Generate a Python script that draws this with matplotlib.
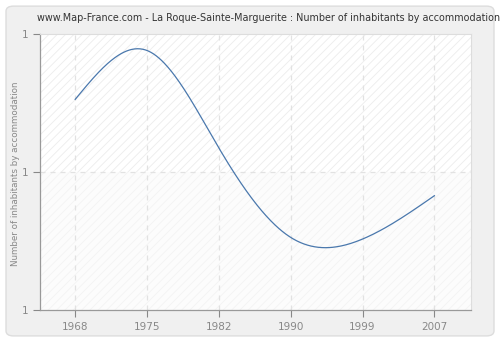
import numpy as np
import matplotlib
matplotlib.use("Agg")
import matplotlib.pyplot as plt
from matplotlib.patches import FancyBboxPatch

years = ["1968", "1975", "1982", "1990", "1999", "2007"]
values = [0.763, 0.940, 0.587, 0.263, 0.257, 0.414]
ytick_vals = [0.0, 0.5, 1.0]
ytick_labels = ["1", "1", "1"]


def natural_spline(x, y, xs):
    x = np.asarray(x, float); y = np.asarray(y, float)
    n = len(x)
    h = np.diff(x)
    A = np.zeros((n, n)); r = np.zeros(n)
    A[0, 0] = 1; A[-1, -1] = 1
    for i in range(1, n - 1):
        A[i, i - 1] = h[i - 1]
        A[i, i] = 2 * (h[i - 1] + h[i])
        A[i, i + 1] = h[i]
        r[i] = 3 * ((y[i + 1] - y[i]) / h[i] - (y[i] - y[i - 1]) / h[i - 1])
    c = np.linalg.solve(A, r)
    b = np.zeros(n - 1); d = np.zeros(n - 1)
    for i in range(n - 1):
        b[i] = (y[i + 1] - y[i]) / h[i] - h[i] * (2 * c[i] + c[i + 1]) / 3
        d[i] = (c[i + 1] - c[i]) / (3 * h[i])
    idx = np.clip(np.searchsorted(x, xs) - 1, 0, n - 2)
    dx = xs - x[idx]
    return y[idx] + b[idx] * dx + c[idx] * dx ** 2 + d[idx] * dx ** 3


fig = plt.figure(figsize=(5, 3.4), dpi=100)
fig.patch.set_facecolor("white")
bg = FancyBboxPatch((0.012, 0.012), 0.976, 0.97, boxstyle="round,pad=0,rounding_size=0.015",
                    transform=fig.transFigure, facecolor="#f0f0f0", edgecolor="#dddddd",
                    linewidth=1, zorder=-10)
fig.patches.append(bg)

ax = fig.add_axes([0.08, 0.0882, 0.862, 0.812])
ax.set_facecolor("white")
xi = np.arange(len(years))
ax.set_xlim(-0.49, 5.51)
ax.set_ylim(0, 1)

plt.rcParams["hatch.linewidth"] = 0.6
ax.axhspan(0.5, 1.0, facecolor="white", edgecolor="#ececec", hatch="////", linewidth=0, zorder=0)
ax.axhspan(0.0, 0.5, facecolor="#fcfcfc", edgecolor="#f3f3f3", hatch="////", linewidth=0, zorder=0)

for x in xi:
    ax.axvline(x, color="#e2e2e2", linestyle=(0, (4, 4)), linewidth=0.9, zorder=1)
ax.axhline(0.5, color="#e2e2e2", linestyle=(0, (4, 4)), linewidth=0.9, zorder=1)

xs = np.linspace(0, len(years) - 1, 400)
ax.plot(xs, natural_spline(xi, values, xs), color="#4a78ad", linewidth=0.9, zorder=3)

ax.set_xticks(xi)
ax.set_xticklabels(years)
ax.set_yticks(ytick_vals)
ax.set_yticklabels(ytick_labels)
ax.tick_params(axis="both", colors="#888888", labelsize=7.5, length=5, width=0.8, labelcolor="#888888")
for s in ["left", "bottom"]:
    ax.spines[s].set_color("#999999")
    ax.spines[s].set_linewidth(0.9)
ax.spines["top"].set_color("#dddddd")
ax.spines["right"].set_color("#dddddd")
fig.text(0.031, 0.49, "Number of inhabitants by accommodation", rotation=90,
         ha="center", va="center", color="#888888", fontsize=6.3)
fig.text(0.537, 0.948, "www.Map-France.com - La Roque-Sainte-Marguerite : Number of inhabitants by accommodation",
         ha="center", va="center", fontsize=6.9, color="#333333")

fig.savefig("out.png", dpi=100, facecolor=fig.get_facecolor())
